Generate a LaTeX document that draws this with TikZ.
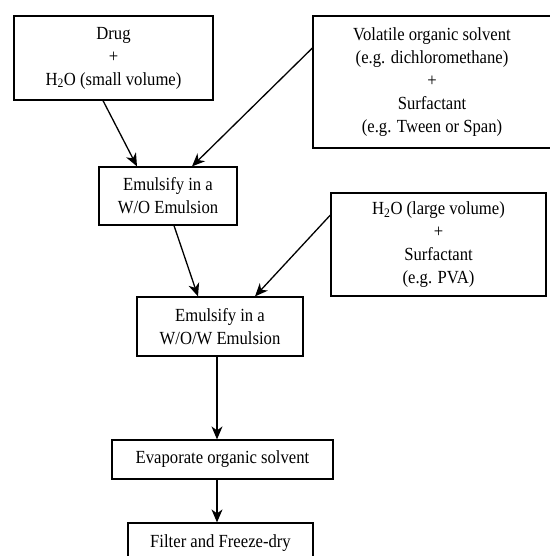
\documentclass[tikz,border=0pt]{standalone}
\usepackage{fontspec}
\setmainfont[FakeStretch=0.9]{Liberation Serif}
\usetikzlibrary{arrows.meta}
\begin{document}
\begin{tikzpicture}[x=1pt, y=-1pt,
    box/.style={draw, line width=1.2pt, align=center, inner sep=0pt,
      font=\fontsize{18.5}{23}\selectfont},
    flow/.style={-{Stealth[length=13pt, width=11pt, inset=4pt]}, line width=1.3pt}]
    \useasboundingbox (0, 0) rectangle (549, 556);

    \node[box, minimum width=199pt, minimum height=84pt] (drug) at (113.5, 58) {Drug\\+\\H\textsubscript{2}O (small volume)};
    \node[box, minimum width=238pt, minimum height=132pt] (solvent) at (432, 82) {Volatile organic solvent\\(e.g. dichloromethane)\\+\\Surfactant\\(e.g. Tween or Span)};
    \node[box, minimum width=138pt, minimum height=58pt] (wo) at (168, 196) {Emulsify in a\\W/O Emulsion};
    \node[box, minimum width=215pt, minimum height=103pt] (water) at (438.5, 244.5) {H\textsubscript{2}O (large volume)\\+\\Surfactant\\(e.g. PVA)};
    \node[box, minimum width=166pt, minimum height=59pt] (wow) at (220, 326.5) {Emulsify in a\\W/O/W Emulsion};
    \node[box, minimum width=221pt, minimum height=39pt] (evap) at (222.5, 459.5) {Evaporate organic solvent};
    \node[box, minimum width=185pt, minimum height=40pt] (dry) at (220.5, 543) {Filter and Freeze-dry};

    % 矢印
    \draw[flow] ([xshift=-10.5pt]drug.south) -- ([xshift=-31pt]wo.north);
    \draw[flow] ([yshift=34pt]solvent.west) -- ([xshift=24pt]wo.north);
    \draw[flow] ([xshift=6pt]wo.south) -- ([xshift=-22pt]wow.north);
    \draw[flow] ([yshift=29.5pt]water.west) -- ([xshift=35pt]wow.north);
    \draw[flow] ([xshift=-3pt]wow.south) -- ([xshift=-3pt]wow.south |- evap.north);
    \draw[flow] ([xshift=-3pt]wow.south |- evap.south) -- ([xshift=-3pt]wow.south |- dry.north);

  \end{tikzpicture}
\end{document}
